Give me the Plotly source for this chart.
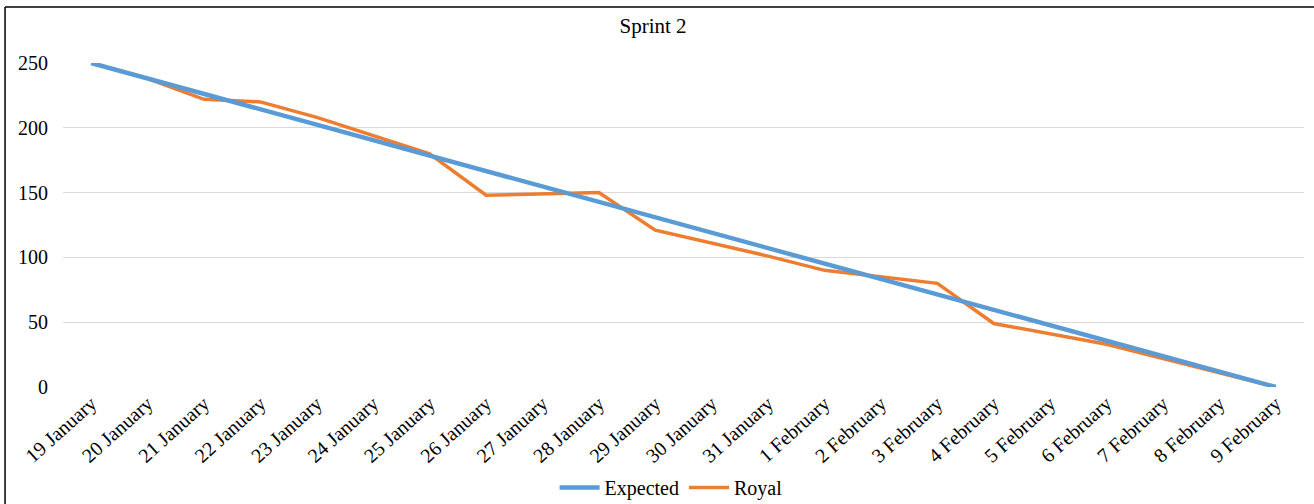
import plotly.graph_objects as go

dates = ["19 January", "20 January", "21 January", "22 January", "23 January",
         "24 January", "25 January", "26 January", "27 January", "28 January",
         "29 January", "30 January", "31 January", "1 February", "2 February",
         "3 February", "4 February", "5 February", "6 February", "7 February",
         "8 February", "9 February"]
expected = [250, 238.1, 226.2, 214.3, 202.4, 190.5, 178.6, 166.7, 154.8, 142.9,
            131.0, 119.0, 107.1, 95.2, 83.3, 71.4, 59.5, 47.6, 35.7, 23.8, 11.9, 0]
royal = [250, 238, 222, 220, 208, 194, 180, 148, 149, 150,
         121, 111, 101, 90, 85, 80, 49, 41, 33, 22, 11, 0]
y_ticks = [0, 50, 100, 150, 200, 250]

FONT = "Liberation Serif, Times New Roman, serif"

fig = go.Figure()
fig.add_trace(go.Scatter(x=dates, y=royal, mode="lines", name="Royal",
                         line=dict(color="#ED7D31", width=3.5)))
fig.add_trace(go.Scatter(x=dates, y=expected, mode="lines", name="Expected",
                         line=dict(color="#5B9BD5", width=4.5)))

fig.update_layout(
    width=1314, height=504,
    margin=dict(l=63, r=10, t=63, b=117, autoexpand=False),
    paper_bgcolor="white", plot_bgcolor="white",
    font=dict(family=FONT, size=20, color="#000000"),
    title=dict(text="Sprint 2", x=0.497, xanchor="center", y=0.95, yanchor="middle",
               font=dict(family=FONT, size=21, color="#000000"), automargin=False),
    showlegend=True,
    legend=dict(orientation="h", x=0.49, xanchor="center", y=-0.31, yanchor="middle",
                font=dict(family=FONT, size=20), traceorder="reversed",
                itemwidth=40),
    xaxis=dict(type="category", tickangle=-42, showgrid=False, showline=False,
               ticks="", zeroline=False, range=[-0.5, len(dates) - 0.5],
               automargin=False,
               tickfont=dict(family=FONT, size=20)),
    yaxis=dict(range=[0, 250], tickvals=y_ticks, showgrid=True, gridcolor="#D9D9D9",
               gridwidth=1, zeroline=False, showline=False, ticks="",
               ticklabelstandoff=14, automargin=False,
               tickfont=dict(family=FONT, size=20)),
    shapes=[
        dict(type="line", xref="paper", yref="paper", x0=-0.0467, x1=1.01,
             y0=1.1728, y1=1.1728, line=dict(color="#000000", width=1.5)),
        dict(type="line", xref="paper", yref="paper", x0=-0.0467, x1=-0.0467,
             y0=1.1728, y1=-0.37, line=dict(color="#000000", width=1.5)),
    ],
)

fig.write_html("out.html")
